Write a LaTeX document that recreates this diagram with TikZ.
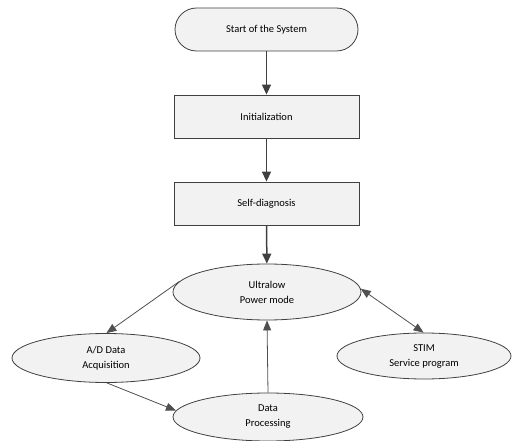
\documentclass[tikz,border=0pt]{standalone}
\usepackage{fontspec}
\setmainfont{Carlito}
\usetikzlibrary{arrows.meta,shapes.geometric}
\definecolor{edge}{RGB}{64,64,64}
\definecolor{boxfill}{RGB}{242,242,242}
\definecolor{thinline}{RGB}{80,80,80}
\tikzset{
  base/.style={draw=edge, line width=0.8pt, fill=boxfill, inner sep=0pt, align=center,
    font=\fontsize{10.5}{15}\selectfont},
  stadium/.style={base, rectangle, rounded corners=21.5pt, minimum width=183pt, minimum height=43pt},
  procbox/.style={base, rectangle, minimum width=185pt, minimum height=43pt},
  oval/.style={base, ellipse},
  thick arrow/.style={draw=edge, line width=1.5pt, -{Triangle[length=10pt,width=9pt]}},
  thin arrow/.style={draw=thinline, line width=0.8pt, -{Triangle[length=10pt,width=8pt]}},
  thin both/.style={draw=thinline, line width=0.8pt, {Triangle[length=10pt,width=8pt]}-{Triangle[length=10pt,width=8pt]}}
}
\begin{document}
\begin{tikzpicture}[x=1pt,y=-1pt]
\useasboundingbox (0,0) rectangle (512,441);
\node[stadium] (start) at (266.5,29.5) {Start of the System};
\node[procbox] (init) at (266.5,116.5) {Initialization};
\node[procbox] (self) at (266.5,203.5) {Self-diagnosis};
\node[oval, minimum width=188pt, minimum height=56pt] (ul) at (267,292) {Ultralow\\Power mode};
\node[oval, minimum width=188pt, minimum height=49pt] (ad) at (106,358) {A/D Data\\Acquisition};
\node[oval, minimum width=174pt, minimum height=46pt] (stim) at (424,356) {STIM\\Service program};
\node[oval, minimum width=190pt, minimum height=48pt] (dp) at (268,417) {Data\\Processing};

\draw[thick arrow] (start) -- (init);
\draw[thick arrow] (init) -- (self);
\draw[thick arrow] (self) -- (ul);
\draw[thin arrow] (ul.173) -- (ad.89);
\draw[thin arrow] (ad.-88) -- (dp.176);
\draw[thin arrow] (dp.north) -- (ul.south);
\draw[thin both] (ul.2) -- (stim.91);
\end{tikzpicture}
\end{document}
